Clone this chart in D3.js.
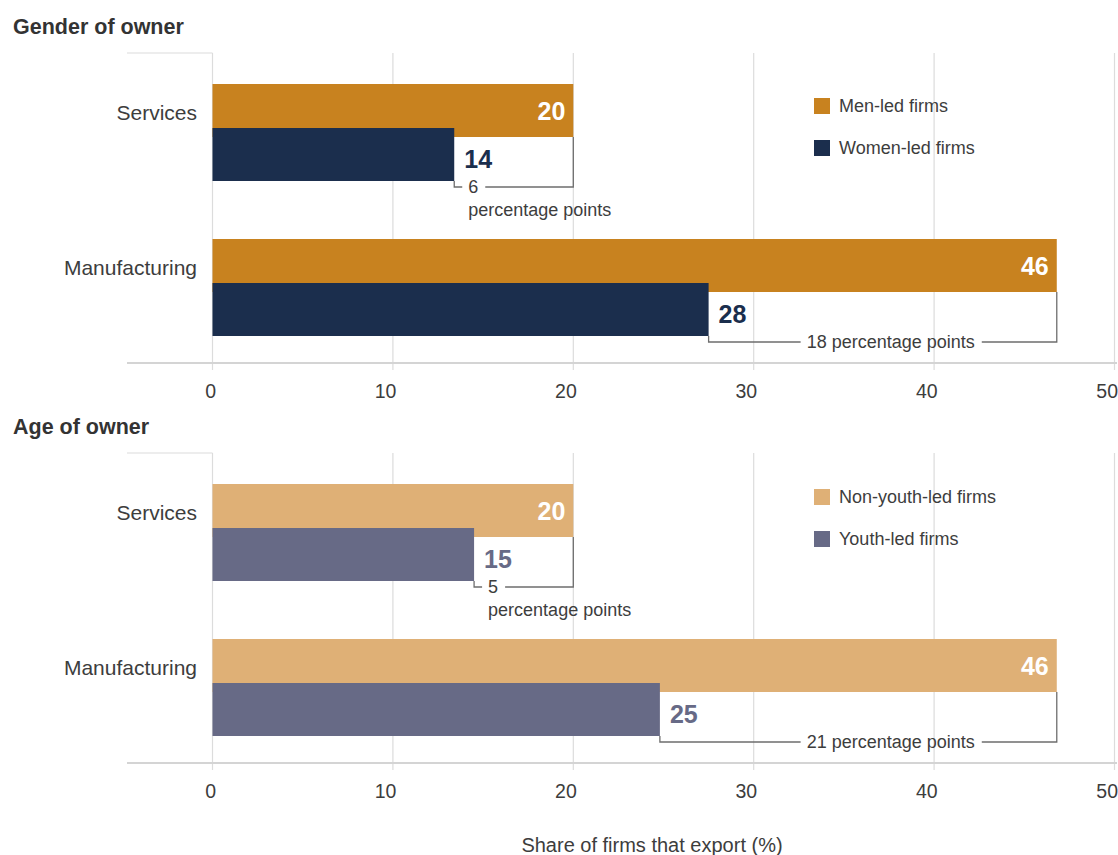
<!DOCTYPE html>
<html>
<head>
<meta charset="utf-8">
<script src="https://cdn.jsdelivr.net/npm/d3@7"></script>
<style>
  html, body { margin: 0; padding: 0; background: #fff; }
  svg { display: block; font-family: "Liberation Sans", Arial, Helvetica, sans-serif; }
</style>
</head>
<body>
<svg id="chart" width="1118" height="855"></svg>
<script>
// ---------------- data ----------------
const categories = ["Services", "Manufacturing"];
const tickValues = [0, 10, 20, 30, 40, 50];

const genderTitle = "Gender of owner";
const genderSeries = ["Men-led firms", "Women-led firms"];
const menValues = [20, 46.8];
const womenValues = [13.4, 27.5];
const menLabels = ["20", "46"];
const womenLabels = ["14", "28"];
const genderGaps = ["6", "18"];

const ageTitle = "Age of owner";
const ageSeries = ["Non-youth-led firms", "Youth-led firms"];
const nonYouthValues = [20, 46.8];
const youthValues = [14.5, 24.8];
const nonYouthLabels = ["20", "46"];
const youthLabels = ["15", "25"];
const ageGaps = ["5", "21"];

const xAxisTitle = "Share of firms that export (%)";
const gapUnit = "percentage points";

// ---------------- drawing ----------------
const svg = d3.select("#chart");
const textColor = "#3d3d3d";
const gridColor = "#dcdcdc";
const bracketColor = "#6e6e6e";

const x = d3.scaleLinear().domain([0, 50]).range([212.5, 1114.5]);

function panel(cfg) {
  const g = svg.append("g");
  const top = cfg.top, bottom = cfg.top + 310;
  const y = d3.scaleBand().domain(categories).range([top + 31, top + 31 + 155 + 97])
    .paddingInner(58 / 155).paddingOuter(0);
  const barH = 53;

  // title
  g.append("text").attr("x", 13).attr("y", cfg.top - 26)
    .attr("dominant-baseline", "central")
    .attr("font-size", 21.5).attr("font-weight", "bold").attr("fill", "#333")
    .text(cfg.title);

  // gridlines
  g.selectAll(".grid").data(tickValues).join("line")
    .attr("x1", d => x(d)).attr("x2", d => x(d))
    .attr("y1", top).attr("y2", bottom + 7)
    .attr("stroke", gridColor).attr("stroke-width", 1.2);

  // top-left line
  g.append("line").attr("x1", 127).attr("x2", x(0))
    .attr("y1", top).attr("y2", top)
    .attr("stroke", gridColor).attr("stroke-width", 1.2);

  // axis (labels)
  const axis = d3.axisBottom(x).tickValues(tickValues).tickSize(0).tickPadding(21)
    .tickFormat(d3.format("d"));
  const ag = g.append("g").attr("transform", `translate(0,${bottom})`).call(axis);
  ag.select(".domain").remove();
  ag.selectAll("text").attr("font-size", 19.5).attr("fill", textColor)
    .attr("font-family", "Liberation Sans, Arial, sans-serif")
    .attr("text-anchor", "end").attr("x", 3);

  // axis line
  g.append("line").attr("x1", 127).attr("x2", 1117)
    .attr("y1", bottom).attr("y2", bottom)
    .attr("stroke", "#d4d4d4").attr("stroke-width", 2);

  categories.forEach((c, i) => {
    const yA = y(c);
    const yB = y(c) + y.bandwidth() - barH;
    const vA = cfg.valuesA[i], vB = cfg.valuesB[i];
    const xA = x(vA), xB = x(vB);

    // bars
    g.append("rect").attr("x", x(0)).attr("y", yA)
      .attr("width", xA - x(0)).attr("height", barH).attr("fill", cfg.colors[0]);
    g.append("rect").attr("x", x(0)).attr("y", yB)
      .attr("width", xB - x(0)).attr("height", barH).attr("fill", cfg.colors[1]);

    // category label
    g.append("text").attr("x", 197).attr("y", yA + barH / 2 + 2)
      .attr("text-anchor", "end").attr("dominant-baseline", "central")
      .attr("font-size", 21).attr("fill", textColor).text(c);

    // value labels
    g.append("text").attr("x", xA - 8).attr("y", yA + barH / 2)
      .attr("text-anchor", "end").attr("dominant-baseline", "central")
      .attr("font-size", 25).attr("font-weight", "bold").attr("fill", "#fff")
      .text(cfg.labelsA[i]);
    g.append("text").attr("x", xB + 10).attr("y", (yA + barH + yB + barH) / 2)
      .attr("dominant-baseline", "central")
      .attr("font-size", 25).attr("font-weight", "bold").attr("fill", cfg.colors[1])
      .text(cfg.labelsB[i]);

    // bracket
    const by = yB + barH + 6;
    const bl = g.append("g");
    const wide = (xA - xB) > 200;
    const txt = bl.append("text")
      .attr("dominant-baseline", "central").attr("y", by)
      .attr("font-size", 18).attr("fill", textColor)
      .text(wide ? cfg.gaps[i] + " " + gapUnit : cfg.gaps[i]);
    let tx;
    if (wide) {
      tx = xA - 82 - txt.node().getComputedTextLength();
    } else {
      tx = xB + 14;
      bl.append("text").attr("x", tx).attr("y", by + 23)
        .attr("dominant-baseline", "central")
        .attr("font-size", 18).attr("fill", textColor).text(gapUnit);
    }
    txt.attr("x", tx);
    const tw = txt.node().getComputedTextLength();
    const path = d3.path();
    path.moveTo(xB, yB + barH);
    path.lineTo(xB, by);
    path.lineTo(tx - 6, by);
    path.moveTo(tx + tw + 7, by);
    path.lineTo(xA, by);
    path.lineTo(xA, yA + barH);
    bl.append("path").attr("d", path.toString()).attr("fill", "none")
      .attr("stroke", bracketColor).attr("stroke-width", 1.3);
  });

  // legend
  cfg.series.forEach((s, i) => {
    const ly = cfg.legendY + i * 42;
    g.append("rect").attr("x", 814).attr("y", ly - 8).attr("width", 16).attr("height", 16)
      .attr("fill", cfg.colors[i]);
    g.append("text").attr("x", 839).attr("y", ly)
      .attr("dominant-baseline", "central")
      .attr("font-size", 18).attr("fill", textColor).text(s);
  });
}

panel({
  top: 53, title: genderTitle, series: genderSeries,
  valuesA: menValues, valuesB: womenValues,
  labelsA: menLabels, labelsB: womenLabels, gaps: genderGaps,
  colors: ["#C8821F", "#1B2E4D"], legendY: 106
});
panel({
  top: 453, title: ageTitle, series: ageSeries,
  valuesA: nonYouthValues, valuesB: youthValues,
  labelsA: nonYouthLabels, labelsB: youthLabels, gaps: ageGaps,
  colors: ["#DFB076", "#676A86"], legendY: 497
});

svg.append("text").attr("x", 652).attr("y", 845)
  .attr("text-anchor", "middle").attr("dominant-baseline", "central")
  .attr("font-size", 20).attr("fill", textColor).text(xAxisTitle);
</script>
</body>
</html>
